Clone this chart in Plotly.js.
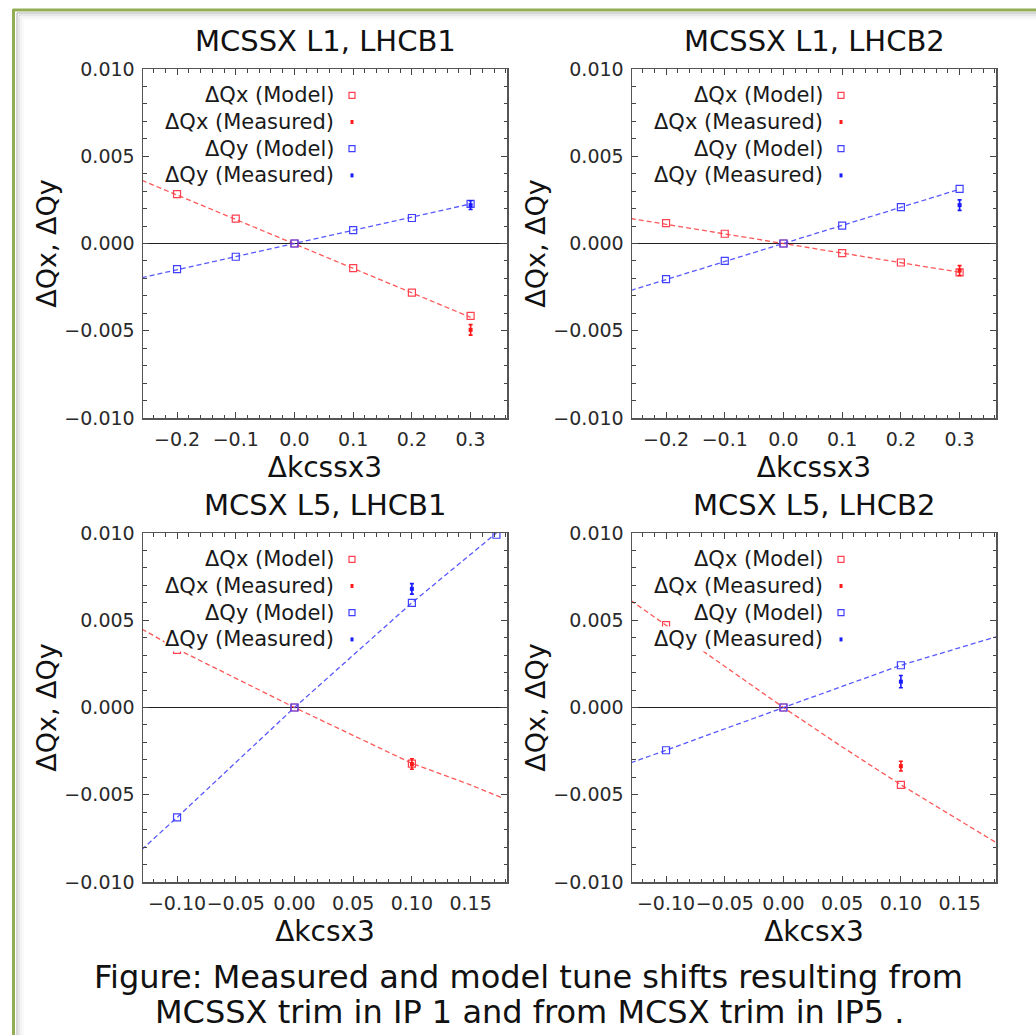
<!DOCTYPE html>
<html>
<head>
<meta charset="utf-8">
<script src="https://cdn.plot.ly/plotly-3.0.1.min.js"></script>
<style>
  html, body { margin: 0; padding: 0; background: #ffffff; }
  #chart { width: 1036px; height: 1035px; }
</style>
</head>
<body>
<div id="chart"></div>
<script>
// ---------- DATA ----------
const panelTitles = ['MCSSX L1, LHCB1', 'MCSSX L1, LHCB2', 'MCSX L5, LHCB1', 'MCSX L5, LHCB2'];
const xTitles = ['\u0394kcssx3', '\u0394kcssx3', '\u0394kcsx3', '\u0394kcsx3'];
const yTitle = '\u0394Qx, \u0394Qy';
const seriesNames = ['\u0394Qx (Model)', '\u0394Qx (Measured)', '\u0394Qy (Model)', '\u0394Qy (Measured)'];
const captionLines = ['Figure: Measured and model tune shifts resulting from',
                      'MCSSX trim in IP 1 and from MCSX trim in IP5 .'];

// Panel 1: MCSSX L1, LHCB1
const p1_modelX  = [-0.2, -0.1, 0.0, 0.1, 0.2, 0.3];
const p1_qxModel = [0.00283, 0.00142, 0.0, -0.00141, -0.00281, -0.00415];
const p1_qyModel = [-0.00147, -0.00076, 0.0, 0.00077, 0.00146, 0.00227];
const p1_measX   = [0.3];
const p1_qxMeas  = [-0.00495];
const p1_qxErr   = [0.00030];
const p1_qyMeas  = [0.00220];
const p1_qyErr   = [0.00025];
const p1_fitX    = [-0.26, 0.3];
const p1_qxFit   = [0.00362, -0.00423];
const p1_qyFit   = [-0.00196, 0.00227];

// Panel 2: MCSSX L1, LHCB2
const p2_modelX  = [-0.2, -0.1, 0.0, 0.1, 0.2, 0.3];
const p2_qxModel = [0.00117, 0.00056, 0.0, -0.00055, -0.00109, -0.00166];
const p2_qyModel = [-0.00204, -0.00099, 0.0, 0.00103, 0.00209, 0.00313];
const p2_measX   = [0.3];
const p2_qxMeas  = [-0.00155];
const p2_qxErr   = [0.00028];
const p2_qyMeas  = [0.00220];
const p2_qyErr   = [0.00030];
const p2_fitX    = [-0.26, 0.3];
const p2_qxFit   = [0.00143, -0.00165];
const p2_qyFit   = [-0.00269, 0.00311];

// Panel 3: MCSX L5, LHCB1
const p3_qxModelX = [-0.1, 0.0, 0.1];
const p3_qxModel  = [0.00330, 0.0, -0.00322];
const p3_qyModelX = [-0.1, 0.0, 0.1, 0.172];
const p3_qyModel  = [-0.00630, 0.0, 0.00600, 0.00990];
const p3_measX    = [0.1];
const p3_qxMeas   = [-0.00324];
const p3_qxErr    = [0.00030];
const p3_qyMeas   = [0.00680];
const p3_qyErr    = [0.00030];
const p3_qxFitX   = [-0.13, -0.1, 0.0, 0.05, 0.1, 0.15, 0.178];
const p3_qxFit    = [0.00450, 0.00335, 0.0, -0.00159, -0.00320, -0.00444, -0.00521];
const p3_qyFitX   = [-0.13, -0.1, 0.0, 0.1, 0.172];
const p3_qyFit    = [-0.00814, -0.00630, 0.0, 0.00600, 0.01000];

// Panel 4: MCSX L5, LHCB2
const p4_modelX   = [-0.1, 0.0, 0.1];
const p4_qxModel  = [0.00472, 0.0, -0.00443];
const p4_qyModel  = [-0.00245, 0.0, 0.00242];
const p4_measX    = [0.1];
const p4_qxMeas   = [-0.00336];
const p4_qxErr    = [0.00028];
const p4_qyMeas   = [0.00148];
const p4_qyErr    = [0.00035];
const p4_fitX     = [-0.13, -0.1, 0.0, 0.05, 0.1, 0.181];
const p4_qxFit    = [0.00613, 0.00472, 0.0, -0.00226, -0.00443, -0.00774];
const p4_qyFit    = [-0.00317, -0.00245, 0.0, 0.00121, 0.00242, 0.00405];

// ---------- STYLE / LAYOUT ----------
const W = 1036, H = 1035;
const FONT = 'DejaVu Sans, Verdana, sans-serif';
const RED = '#ff1a1a', BLUE = '#1a1aff';
const RED_MODEL = '#ff4050', BLUE_MODEL = '#4040ff';
const RED_LINE = 'rgba(255,70,70,0.9)', BLUE_LINE = 'rgba(70,70,255,0.9)';

function fx(p) { return p / W; }
function fy(p) { return 1 - p / H; }

// plot boxes in pixels [left, right, top, bottom]
const boxes = [
  [143, 507, 69, 418],
  [632, 996, 69, 418],
  [143, 507, 533, 882],
  [632, 996, 533, 882]
];
const xRanges = [[-0.258, 0.362], [-0.258, 0.362], [-0.129, 0.181], [-0.129, 0.181]];
const xDticks = [0.1, 0.1, 0.05, 0.05];
const xMinor = [0.02, 0.02, 0.01, 0.01];
const xFormats = ['.1f', '.1f', '.2f', '.2f'];

const panels = [
  {qxMX: p1_modelX, qxM: p1_qxModel, qyMX: p1_modelX, qyM: p1_qyModel, mX: p1_measX,
   qxMe: p1_qxMeas, qxE: p1_qxErr, qyMe: p1_qyMeas, qyE: p1_qyErr,
   qxFX: p1_fitX, qxF: p1_qxFit, qyFX: p1_fitX, qyF: p1_qyFit},
  {qxMX: p2_modelX, qxM: p2_qxModel, qyMX: p2_modelX, qyM: p2_qyModel, mX: p2_measX,
   qxMe: p2_qxMeas, qxE: p2_qxErr, qyMe: p2_qyMeas, qyE: p2_qyErr,
   qxFX: p2_fitX, qxF: p2_qxFit, qyFX: p2_fitX, qyF: p2_qyFit},
  {qxMX: p3_qxModelX, qxM: p3_qxModel, qyMX: p3_qyModelX, qyM: p3_qyModel, mX: p3_measX,
   qxMe: p3_qxMeas, qxE: p3_qxErr, qyMe: p3_qyMeas, qyE: p3_qyErr,
   qxFX: p3_qxFitX, qxF: p3_qxFit, qyFX: p3_qyFitX, qyF: p3_qyFit},
  {qxMX: p4_modelX, qxM: p4_qxModel, qyMX: p4_modelX, qyM: p4_qyModel, mX: p4_measX,
   qxMe: p4_qxMeas, qxE: p4_qxErr, qyMe: p4_qyMeas, qyE: p4_qyErr,
   qxFX: p4_fitX, qxF: p4_qxFit, qyFX: p4_fitX, qyF: p4_qyFit}
];

const traces = [];
const layout = {
  width: W, height: H,
  margin: {l: 0, r: 0, t: 0, b: 0},
  paper_bgcolor: '#ffffff', plot_bgcolor: '#ffffff',
  showlegend: false,
  font: {family: FONT, color: '#111'},
  annotations: [], shapes: []
};

panels.forEach((p, i) => {
  const k = i + 1;
  const xa = 'x' + (k === 1 ? '' : k), ya = 'y' + (k === 1 ? '' : k);
  const b = boxes[i];
  const tickStyle = {family: FONT, size: 19, color: '#2a2a2a'};
  layout['xaxis' + (k === 1 ? '' : k)] = {
    domain: [fx(b[0]), fx(b[1])], anchor: ya, range: xRanges[i],
    tick0: 0, dtick: xDticks[i], tickformat: xFormats[i], tickangle: 0,
    ticks: 'inside', ticklen: 6, tickwidth: 1, tickcolor: '#444',
    minor: {ticks: 'inside', dtick: xMinor[i], tick0: 0, ticklen: 3.5, tickwidth: 1, tickcolor: '#444'},
    showline: true, linecolor: '#555', linewidth: 1.5, mirror: 'allticks',
    showgrid: false, zeroline: false, tickfont: tickStyle, ticklabelstandoff: 4,
    title: {text: xTitles[i], font: {family: FONT, size: 28, color: '#111'}, standoff: 8}
  };
  layout['yaxis' + (k === 1 ? '' : k)] = {
    domain: [fy(b[3]), fy(b[2])], anchor: xa, range: [-0.01, 0.01],
    tick0: 0, dtick: 0.005, tickformat: '.3f',
    ticks: 'inside', ticklen: 6, tickwidth: 1, tickcolor: '#444',
    minor: {ticks: 'inside', dtick: 0.001, tick0: 0, ticklen: 3.5, tickwidth: 1, tickcolor: '#444'},
    showline: true, linecolor: '#555', linewidth: 1.5, mirror: 'allticks',
    showgrid: false, zeroline: true, zerolinecolor: '#222', zerolinewidth: 1.3,
    tickfont: tickStyle, ticklabelstandoff: 3,
    title: {text: yTitle, font: {family: FONT, size: 27, color: '#111'}, standoff: 0}
  };

  // dashed model curves
  traces.push({type: 'scatter', mode: 'lines', x: p.qxFX, y: p.qxF, xaxis: xa, yaxis: ya,
    name: seriesNames[0] + ' fit', hoverinfo: 'skip', cliponaxis: true,
    line: {color: RED_LINE, width: 1.3, dash: '5px,3px'}});
  traces.push({type: 'scatter', mode: 'lines', x: p.qyFX, y: p.qyF, xaxis: xa, yaxis: ya,
    name: seriesNames[2] + ' fit', hoverinfo: 'skip', cliponaxis: true,
    line: {color: BLUE_LINE, width: 1.3, dash: '5px,3px'}});
  // model points
  traces.push({type: 'scatter', mode: 'markers', x: p.qxMX, y: p.qxM, xaxis: xa, yaxis: ya,
    name: seriesNames[0], cliponaxis: true,
    marker: {symbol: 'square-open', size: 7, color: RED_MODEL, line: {width: 1.2, color: RED_MODEL}}});
  traces.push({type: 'scatter', mode: 'markers', x: p.qyMX, y: p.qyM, xaxis: xa, yaxis: ya,
    name: seriesNames[2], cliponaxis: true,
    marker: {symbol: 'square-open', size: 7, color: BLUE_MODEL, line: {width: 1.2, color: BLUE_MODEL}}});
  // measured points
  traces.push({type: 'scatter', mode: 'markers', x: p.mX, y: p.qxMe, xaxis: xa, yaxis: ya,
    name: seriesNames[1],
    error_y: {type: 'data', array: p.qxE, visible: true, color: RED, thickness: 1.6, width: 2},
    marker: {symbol: 'square', size: 4, color: RED}});
  traces.push({type: 'scatter', mode: 'markers', x: p.mX, y: p.qyMe, xaxis: xa, yaxis: ya,
    name: seriesNames[3],
    error_y: {type: 'data', array: p.qyE, visible: true, color: BLUE, thickness: 1.6, width: 2},
    marker: {symbol: 'square', size: 4, color: BLUE}});

  // panel title
  layout.annotations.push({xref: 'paper', yref: 'paper', x: fx((b[0] + b[1]) / 2), y: fy(b[2] - 28),
    text: panelTitles[i], showarrow: false, xanchor: 'center', yanchor: 'middle',
    font: {family: FONT, size: 29, color: '#111'}});

  // legend (text right-aligned, symbol to the right)
  const colors = [RED_MODEL, RED, BLUE_MODEL, BLUE];
  seriesNames.forEach((nm, j) => {
    const cy = b[2] + 26.3 + j * 26.7;
    layout.annotations.push({xref: 'paper', yref: 'paper', x: fx(b[0] + 192), y: fy(cy),
      text: nm, showarrow: false, xanchor: 'right', yanchor: 'middle',
      bgcolor: '#ffffff', borderpad: 0,
      font: {family: FONT, size: 21, color: '#1a1a1a'}});
    const sx = b[0] + 209;
    if (j % 2 === 0) {
      layout.shapes.push({type: 'rect', xref: 'paper', yref: 'paper',
        x0: fx(sx - 3), x1: fx(sx + 3), y0: fy(cy + 3), y1: fy(cy - 3),
        line: {color: colors[j], width: 1.2}, fillcolor: 'rgba(0,0,0,0)'});
    } else {
      layout.shapes.push({type: 'rect', xref: 'paper', yref: 'paper',
        x0: fx(sx - 1.5), x1: fx(sx + 1.5), y0: fy(cy + 2), y1: fy(cy - 2),
        line: {width: 0}, fillcolor: colors[j]});
    }
  });
});

// caption
layout.annotations.push({xref: 'paper', yref: 'paper', x: fx(528), y: fy(977),
  text: captionLines[0], showarrow: false, xanchor: 'center', yanchor: 'middle',
  font: {family: FONT, size: 32, color: '#111'}});
layout.annotations.push({xref: 'paper', yref: 'paper', x: fx(529), y: fy(1012),
  text: captionLines[1], showarrow: false, xanchor: 'center', yanchor: 'middle',
  font: {family: FONT, size: 32, color: '#111'}});

// decorative green frame with soft shadow
[[0.30, 3], [0.18, 5], [0.09, 7], [0.04, 9]].forEach(([a, o]) => {
  layout.shapes.push({type: 'line', xref: 'paper', yref: 'paper', layer: 'below',
    x0: fx(14 + o), x1: fx(1036), y0: fy(10 + o), y1: fy(10 + o),
    line: {color: 'rgba(120,120,120,' + a + ')', width: 2}});
  layout.shapes.push({type: 'line', xref: 'paper', yref: 'paper', layer: 'below',
    x0: fx(14 + o), x1: fx(14 + o), y0: fy(10 + o), y1: fy(1035),
    line: {color: 'rgba(120,120,120,' + a + ')', width: 2}});
});
layout.shapes.push({type: 'line', xref: 'paper', yref: 'paper',
  x0: fx(13), x1: fx(1036), y0: fy(10), y1: fy(10), line: {color: '#93ad55', width: 3}});
layout.shapes.push({type: 'line', xref: 'paper', yref: 'paper',
  x0: fx(13.5), x1: fx(13.5), y0: fy(9), y1: fy(1035), line: {color: '#93ad55', width: 3}});

Plotly.newPlot('chart', traces, layout, {staticPlot: true, displayModeBar: false});
</script>
</body>
</html>
